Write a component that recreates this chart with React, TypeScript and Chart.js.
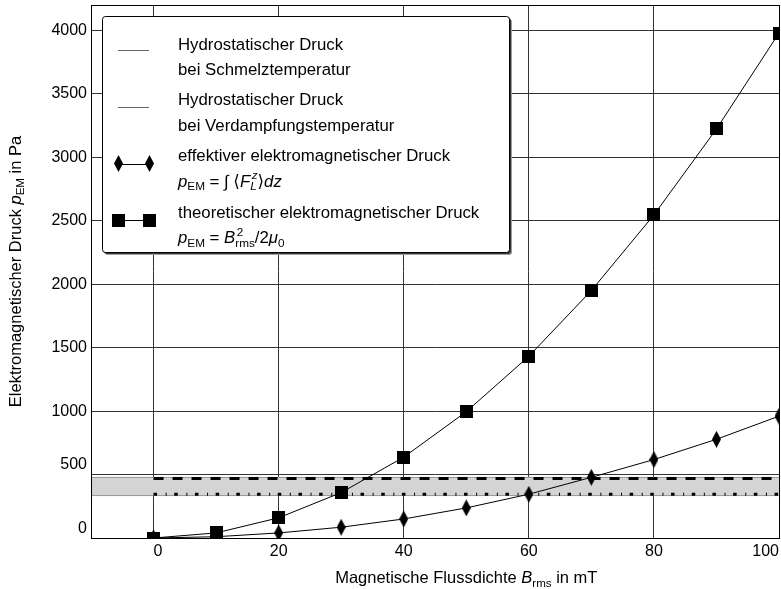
import React, { useEffect, useRef } from "react";
import { Chart, registerables } from "chart.js";

Chart.register(...registerables);

const FONT = "'Liberation Sans', Arial, Helvetica, 'DejaVu Sans', sans-serif";

// ---- data ----
const fluxDensity = [0, 10, 20, 30, 40, 50, 60, 70, 80, 90, 100];
const effectivePressure = [0, 10, 40, 85, 150, 237, 345, 478, 618, 778, 960];
const theoreticalPressure = [0, 40, 159, 358, 637, 995, 1432, 1950, 2546, 3223, 3979];
const hydroRangeX = [0, 100];
const hydroMelting = 345;
const hydroEvaporation = 468;
const hydroBand = [330, 482];
const xTickValues = [0, 20, 40, 60, 80, 100];
const yTickValues = [0, 500, 1000, 1500, 2000, 2500, 3000, 3500, 4000];
const xLimits = [-10, 100];
const yLimits = [0, 4200];

type Seg = { t: string; it?: boolean; sub?: string; sup?: string; subIt?: boolean; supIt?: boolean };

const xTitle: Seg[] = [{ t: "Magnetische Flussdichte " }, { t: "B", it: true, sub: "rms" }, { t: " in mT" }];
const yTitle: Seg[] = [{ t: "Elektromagnetischer Druck " }, { t: "p", it: true, sub: "EM" }, { t: " in Pa" }];

const legendMelting: Seg[][] = [[{ t: "Hydrostatischer Druck" }], [{ t: "bei Schmelztemperatur" }]];
const legendEvaporation: Seg[][] = [[{ t: "Hydrostatischer Druck" }], [{ t: "bei Verdampfungstemperatur" }]];
const legendEffective: Seg[][] = [
  [{ t: "effektiver elektromagnetischer Druck" }],
  [
    { t: "p", it: true, sub: "EM" },
    { t: " = " },
    { t: "\u222B", it: true },
    { t: " \u27E8" },
    { t: "F", it: true, sup: "z", supIt: true, sub: "L", subIt: true },
    { t: "\u27E9" },
    { t: "dz", it: true },
  ],
];
const legendTheoretical: Seg[][] = [
  [{ t: "theoretischer elektromagnetischer Druck" }],
  [
    { t: "p", it: true, sub: "EM" },
    { t: " = " },
    { t: "B", it: true, sup: "2", sub: "rms" },
    { t: "/2" },
    { t: "\u03BC", it: true, sub: "0" },
  ],
];

const font = (size: number, it?: boolean) => `${it ? "italic " : ""}${size}px ${FONT}`;

function segWidth(ctx: CanvasRenderingContext2D, segs: Seg[], size: number) {
  const small = size * 0.7;
  let w = 0;
  for (const s of segs) {
    ctx.font = font(size, s.it);
    w += ctx.measureText(s.t).width;
    let sw = 0;
    if (s.sub) {
      ctx.font = font(small, s.subIt);
      sw = Math.max(sw, ctx.measureText(s.sub).width);
    }
    if (s.sup) {
      ctx.font = font(small, s.supIt);
      sw = Math.max(sw, ctx.measureText(s.sup).width + (s.it ? 1.5 : 0));
    }
    w += sw;
  }
  return w;
}

function drawSegs(ctx: CanvasRenderingContext2D, x: number, y: number, segs: Seg[], size: number) {
  const small = size * 0.7;
  ctx.textAlign = "left";
  ctx.textBaseline = "alphabetic";
  ctx.fillStyle = "#000";
  for (const s of segs) {
    ctx.font = font(size, s.it);
    ctx.fillText(s.t, x, y);
    x += ctx.measureText(s.t).width;
    let sw = 0;
    if (s.sub) {
      ctx.font = font(small, s.subIt);
      ctx.fillText(s.sub, x, y + size * 0.22);
      sw = Math.max(sw, ctx.measureText(s.sub).width);
    }
    if (s.sup) {
      ctx.font = font(small, s.supIt);
      const off = s.it ? 1.5 : 0;
      ctx.fillText(s.sup, x + off, y - size * 0.42);
      sw = Math.max(sw, ctx.measureText(s.sup).width + off);
    }
    x += sw;
  }
}

function makeMarker(kind: "diamond" | "square", w: number, h: number) {
  const c = document.createElement("canvas");
  c.width = w;
  c.height = h;
  const g = c.getContext("2d")!;
  g.fillStyle = "#000";
  if (kind === "square") {
    g.fillRect(0, 0, w, h);
  } else {
    g.beginPath();
    g.moveTo(w / 2, 0);
    g.lineTo(w, h / 2);
    g.lineTo(w / 2, h);
    g.lineTo(0, h / 2);
    g.closePath();
    g.fill();
  }
  return c;
}

function roundRectPath(ctx: CanvasRenderingContext2D, x: number, y: number, w: number, h: number, r: number) {
  ctx.beginPath();
  ctx.moveTo(x + r, y);
  ctx.lineTo(x + w - r, y);
  ctx.arcTo(x + w, y, x + w, y + r, r);
  ctx.lineTo(x + w, y + h - r);
  ctx.arcTo(x + w, y + h, x + w - r, y + h, r);
  ctx.lineTo(x + r, y + h);
  ctx.arcTo(x, y + h, x, y + h - r, r);
  ctx.lineTo(x, y + r);
  ctx.arcTo(x, y, x + r, y, r);
  ctx.closePath();
}

export default function App() {
  const ref = useRef<HTMLCanvasElement>(null);

  useEffect(() => {
    const canvas = ref.current!;
    const diamond = makeMarker("diamond", 9, 17);
    const square = makeMarker("square", 13, 13);

    const decor = {
      id: "decor",
      beforeDatasetsDraw(chart: any) {
        const { ctx, chartArea } = chart;
        const ys = chart.scales.y;
        const top = ys.getPixelForValue(hydroBand[1]);
        const bot = ys.getPixelForValue(hydroBand[0]);
        ctx.save();
        ctx.fillStyle = "#d4d4d4";
        ctx.fillRect(chartArea.left, top, chartArea.right - chartArea.left, bot - top);
        ctx.strokeStyle = "#9a9a9a";
        ctx.lineWidth = 1;
        ctx.beginPath();
        ctx.moveTo(chartArea.left, Math.round(top) + 0.5);
        ctx.lineTo(chartArea.right, Math.round(top) + 0.5);
        ctx.moveTo(chartArea.left, Math.round(bot) - 0.5);
        ctx.lineTo(chartArea.right, Math.round(bot) - 0.5);
        ctx.stroke();
        ctx.restore();
      },
      afterDatasetsDraw(chart: any) {
        const { ctx, chartArea } = chart;
        const a = (v: number) => Math.round(v - 0.5) + 0.5;
        ctx.save();
        ctx.strokeStyle = "#000";
        ctx.lineWidth = 1;
        ctx.strokeRect(a(chartArea.left), a(chartArea.top), a(chartArea.right) - a(chartArea.left), a(chartArea.bottom) - a(chartArea.top));
        ctx.restore();
      },
      afterDraw(chart: any) {
        const { ctx, chartArea } = chart;
        ctx.save();
        // x axis title, centred on the data range
        const tsize = 16.5;
        const xs = chart.scales.x;
        const xc = (xs.getPixelForValue(hydroRangeX[0]) + xs.getPixelForValue(hydroRangeX[1])) / 2;
        const xw = segWidth(ctx, xTitle, tsize);
        drawSegs(ctx, xc - xw / 2, 583, xTitle, tsize);
        // y axis title
        const yc = (chartArea.top + chartArea.bottom) / 2;
        const yw = segWidth(ctx, yTitle, tsize);
        ctx.save();
        ctx.translate(20.5, yc);
        ctx.rotate(-Math.PI / 2);
        drawSegs(ctx, -yw / 2, 0, yTitle, tsize);
        ctx.restore();

        // legend box
        const lx = 102, ly = 16, lw = 407, lh = 236;
        ctx.fillStyle = "#9a9a9a";
        roundRectPath(ctx, lx + 3, ly + 3, lw, lh, 3);
        ctx.fill();
        ctx.fillStyle = "#3a3a3a";
        roundRectPath(ctx, lx + 2, ly + 2, lw, lh, 3);
        ctx.fill();
        ctx.fillStyle = "#fff";
        roundRectPath(ctx, lx + 0.5, ly + 0.5, lw, lh, 3);
        ctx.fill();
        ctx.strokeStyle = "#000";
        ctx.lineWidth = 1;
        ctx.stroke();

        const sx0 = 118, sx1 = 149, tx = 178, lsize = 16.8;
        const entries = [
          { lines: legendMelting, base: 49.5, sample: 50, kind: "plain" },
          { lines: legendEvaporation, base: 105, sample: 107, kind: "plain" },
          { lines: legendEffective, base: 161, sample: 163.5, kind: "diamond" },
          { lines: legendTheoretical, base: 217.5, sample: 220, kind: "square" },
        ];
        for (const e of entries) {
          ctx.beginPath();
          ctx.moveTo(sx0, Math.round(e.sample) + 0.5);
          ctx.lineTo(sx1, Math.round(e.sample) + 0.5);
          ctx.strokeStyle = e.kind === "plain" ? "#666" : "#000";
          ctx.lineWidth = 1;
          ctx.stroke();
          if (e.kind !== "plain") {
            const img = e.kind === "diamond" ? diamond : square;
            for (const px of [sx0, sx1]) {
              ctx.drawImage(img, Math.round(px - img.width / 2), Math.round(e.sample - img.height / 2));
            }
          }
          e.lines.forEach((segs, i) => drawSegs(ctx, tx, e.base + i * 25.5, segs, lsize));
        }
        ctx.restore();
      },
    };

    const chart = new Chart(canvas, {
      type: "line",
      data: {
        datasets: [
          {
            label: "theoretischer elektromagnetischer Druck",
            data: fluxDensity.map((x, i) => ({ x, y: theoreticalPressure[i] })),
            borderColor: "#000",
            borderWidth: 1,
            pointStyle: square as any,
            pointRadius: 7,
            tension: 0,
            clip: 0,
          },
          {
            label: "effektiver elektromagnetischer Druck",
            data: fluxDensity.map((x, i) => ({ x, y: effectivePressure[i] })),
            borderColor: "#000",
            borderWidth: 1,
            pointStyle: diamond as any,
            pointRadius: 7,
            tension: 0,
            clip: 0,
          },
          {
            label: "Hydrostatischer Druck bei Verdampfungstemperatur",
            data: hydroRangeX.map((x) => ({ x, y: hydroEvaporation })),
            borderColor: "#000",
            borderWidth: 3,
            borderDash: [10, 9],
            borderCapStyle: "butt",
            pointRadius: 0,
            clip: 0,
          },
          {
            label: "Hydrostatischer Druck bei Schmelztemperatur",
            data: hydroRangeX.map((x) => ({ x, y: hydroMelting })),
            borderColor: "#000",
            borderWidth: 3,
            borderDash: [3.5, 8.6, 1, 7.6],
            borderCapStyle: "butt",
            pointRadius: 0,
            clip: 0,
          },
        ] as any,
      },
      options: {
        responsive: false,
        maintainAspectRatio: false,
        devicePixelRatio: 1,
        animation: false,
        layout: { autoPadding: false, padding: { left: 0, right: 2, top: 5, bottom: 0 } },
        plugins: { legend: { display: false }, tooltip: { enabled: false }, title: { display: false } },
        scales: {
          x: {
            type: "linear",
            min: xLimits[0],
            max: xLimits[1],
            afterBuildTicks: (s: any) => {
              s.ticks = xTickValues.map((v) => ({ value: v }));
            },
            afterFit: (s: any) => {
              s.height = 51;
              s.paddingLeft = 0;
              s.paddingRight = 0;
            },
            grid: { color: "#333", lineWidth: 1, drawTicks: false },
            border: { display: true, color: "#000", width: 1 },
            ticks: {
              color: "#000",
              font: { size: 16, family: FONT },
              padding: 4,
              align: "inner",
              maxRotation: 0,
              autoSkip: false,
            },
          },
          y: {
            type: "linear",
            min: yLimits[0],
            max: yLimits[1],
            afterBuildTicks: (s: any) => {
              s.ticks = yTickValues.map((v) => ({ value: v }));
            },
            afterFit: (s: any) => {
              s.width = 91;
              s.paddingTop = 0;
              s.paddingBottom = 0;
            },
            grid: { color: "#333", lineWidth: 1, drawTicks: false },
            border: { display: true, color: "#000", width: 1 },
            ticks: {
              color: "#000",
              font: { size: 16, family: FONT },
              padding: 4,
              autoSkip: false,
              callback: (v: any) => (v === 0 || v === 500 ? [String(v), ""] : String(v)),
            },
          },
        },
      } as any,
      plugins: [decor],
    });
    return () => chart.destroy();
  }, []);

  return (
    <div style={{ position: "fixed", left: 0, top: 0, width: 781, height: 589, background: "#fff" }}>
      <canvas ref={ref} width={781} height={589} style={{ display: "block", width: 781, height: 589 }} />
    </div>
  );
}
